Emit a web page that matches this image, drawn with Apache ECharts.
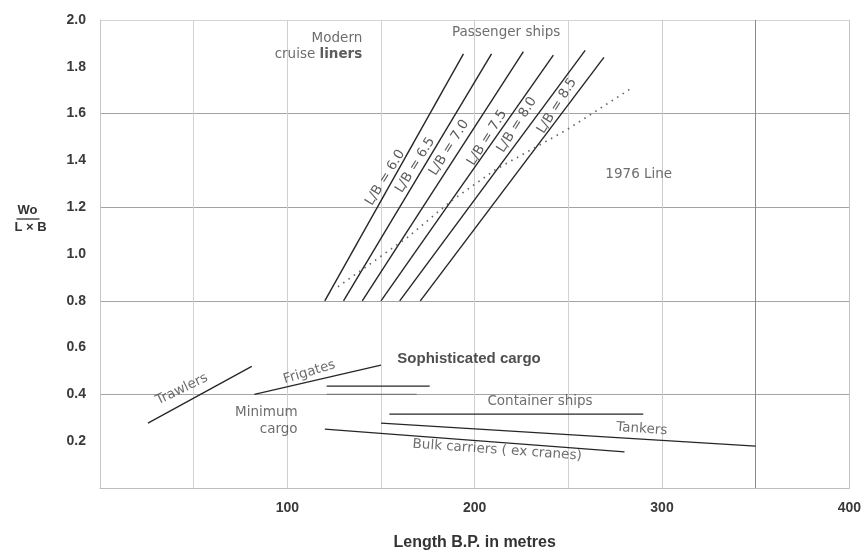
<!DOCTYPE html>
<html>
<head>
<meta charset="utf-8">
<script src="https://cdn.jsdelivr.net/npm/echarts@6/dist/echarts.min.js"></script>
<style>
  html, body { margin: 0; padding: 0; background: #fff; }
  #chart { width: 864px; height: 556px; }
</style>
</head>
<body>
<div id="chart"></div>
<script>
// ---- Axis ticks ----
const xTickLabels = [100, 200, 300, 400];
const yTickLabels = [0.2, 0.4, 0.6, 0.8, 1.0, 1.2, 1.4, 1.6, 1.8, 2.0];

// ---- L/B lines: [length B.P. (m), Wo/(L x B)] at each end ----
const lbRatios = ['6.0', '6.5', '7.0', '7.5', '8.0', '8.5'];
const lbStart = [[120, 0.80], [130, 0.80], [140, 0.80], [150, 0.80], [160, 0.80], [171, 0.80]];
const lbEnd   = [[194, 1.855], [209, 1.855], [226, 1.865], [242, 1.85], [259, 1.87], [269, 1.84]];

// ---- 1976 line (dotted) ----
const line1976 = [[127, 0.86], [164, 1.07], [188, 1.23], [211, 1.36], [249, 1.53], [284, 1.71]];

// ---- Ship type bands ----
const trawlers       = [[25.6, 0.277], [81, 0.52]];
const frigates       = [[82.4, 0.40], [150, 0.525]];
const sophCargo      = [[121, 0.435], [176, 0.435]];
const minimumCargo   = [[121, 0.40], [169, 0.40]];
const containerShips = [[154.5, 0.316], [290, 0.316]];
const tankers        = [[150, 0.277], [350, 0.179]];
const bulkCarriers   = [[120, 0.252], [280, 0.154]];

// ---- Text notes placed in data space ----
const notes = [
  { text: 'L/B = 6.0', at: [152.3, 1.326], rotate: 58, dark: true },
  { text: 'L/B = 6.5', at: [168.3, 1.380], rotate: 58, dark: true },
  { text: 'L/B = 7.0', at: [186.4, 1.454], rotate: 58, dark: true },
  { text: 'L/B = 7.5', at: [206.7, 1.497], rotate: 58, dark: true },
  { text: 'L/B = 8.0', at: [222.6, 1.552], rotate: 58, dark: true },
  { text: 'L/B = 8.5', at: [244.0, 1.633], rotate: 58, dark: true },
  { text: 'Passenger ships', at: [216.8, 1.945] },
  { text: 'Modern', at: [140, 1.923], align: 'right' },
  { text: 'cruise {b|liners}', at: [140, 1.851], align: 'right' },
  { text: '1976 Line', at: [287.6, 1.339] },
  { text: 'Trawlers', at: [43.7, 0.422], rotate: 26 },
  { text: 'Frigates', at: [111.8, 0.495], rotate: 17 },
  { text: 'Sophisticated cargo', at: [197, 0.55], bold: true },
  { text: 'Minimum', at: [105.5, 0.324], align: 'right' },
  { text: 'cargo', at: [105.5, 0.252], align: 'right' },
  { text: 'Container ships', at: [234.9, 0.371] },
  { text: 'Tankers', at: [289.2, 0.252], rotate: -4 },
  { text: 'Bulk carriers ( ex cranes)', at: [212, 0.162], rotate: -4 }
];

const INK = '#262626';
const TEXT = '#484848';

function segment(name, data, color, width, type) {
  return {
    name: name,
    type: 'line',
    xAxisIndex: 0,
    yAxisIndex: 0,
    data: data,
    symbol: 'none',
    silent: true,
    animation: false,
    lineStyle: { color: color || INK, width: width || 1.3, type: type || 'solid' },
    z: 3
  };
}

const series = [];
lbRatios.forEach(function (r, i) {
  series.push(segment('L/B = ' + r, [lbStart[i], lbEnd[i]], INK, 1.4));
});
series.push(segment('1976 Line', line1976, '#666', 1.7, [1.5, 5]));
series.push(segment('Trawlers', trawlers));
series.push(segment('Frigates', frigates));
series.push(segment('Sophisticated cargo', sophCargo));
series.push(segment('Minimum cargo', minimumCargo, '#777', 1.2));
series.push(segment('Container ships', containerShips));
series.push(segment('Tankers', tankers));
series.push(segment('Bulk carriers', bulkCarriers));

// Text notes drawn as labels of invisible points
series.push({
  name: 'notes',
  type: 'scatter',
  xAxisIndex: 0,
  yAxisIndex: 0,
  symbol: 'circle',
  symbolSize: 1,
  silent: true,
  animation: false,
  itemStyle: { color: 'rgba(0,0,0,0)' },
  z: 5,
  data: notes.map(function (n) {
    return {
      value: n.at,
      label: {
        show: true,
        position: 'inside',
        formatter: n.text,
        rotate: n.rotate || 0,
        align: n.align || 'center',
        verticalAlign: 'middle',
        color: n.bold ? '#222' : (n.dark ? '#333' : TEXT),
        fontFamily: n.bold ? 'Liberation Sans' : 'DejaVu Sans',
        fontWeight: n.bold ? 'bold' : 'normal',
        fontSize: n.bold ? 15 : 13.5,
        rich: { b: { fontFamily: 'DejaVu Sans', fontWeight: 'bold', fontSize: 13.5, color: '#333' } }
      }
    };
  })
});

const chart = echarts.init(document.getElementById('chart'), null, { renderer: 'canvas' });
chart.setOption({
  backgroundColor: '#ffffff',
  animation: false,
  grid: { left: 100, right: 13, top: 20, bottom: 67 },
  xAxis: [{
    type: 'value',
    min: 0,
    max: 400,
    interval: 50,
    name: 'Length B.P. in metres',
    nameLocation: 'middle',
    nameGap: 47,
    nameTextStyle: { fontFamily: 'Liberation Sans', fontWeight: 'bold', fontSize: 16, color: '#333' },
    axisLine: { show: true, lineStyle: { color: '#bdbdbd', type: [3, 4], width: 1 } },
    axisTick: { show: false },
    axisLabel: {
      margin: 13,
      fontFamily: 'Liberation Sans',
      fontWeight: 'bold',
      fontSize: 14,
      color: '#3a3a3a',
      formatter: function (v) { return xTickLabels.indexOf(v) >= 0 ? String(v) : ''; }
    },
    splitLine: {
      show: true,
      lineStyle: {
        width: 1,
        color: ['#d6d6d6', '#d2d2d2', '#cfcfcf', '#d2d2d2', '#cfcfcf', '#d2d2d2', '#cdcdcd', '#8a8a8a', '#c4c4c4']
      }
    }
  }],
  yAxis: [{
    type: 'value',
    min: 0,
    max: 2,
    interval: 0.2,
    axisLine: { show: true, lineStyle: { color: '#c6c6c6', width: 1 } },
    axisTick: { show: false },
    axisLabel: {
      margin: 14,
      fontFamily: 'Liberation Sans',
      fontWeight: 'bold',
      fontSize: 14,
      color: '#3a3a3a',
      formatter: function (v) {
        const s = v.toFixed(1);
        return yTickLabels.some(function (t) { return t.toFixed(1) === s; }) ? s : '';
      }
    },
    splitLine: { show: false }
  }, {
    type: 'value',
    min: 0,
    max: 2,
    interval: 0.4,
    position: 'left',
    axisLine: { show: false },
    axisTick: { show: false },
    axisLabel: { show: false },
    splitLine: {
      show: true,
      lineStyle: {
        width: 1,
        color: ['#bdbdbd', '#a3a3a3', '#a3a3a3', '#a3a3a3', '#a3a3a3', '#d4d4d4']
      }
    }
  }],
  graphic: [{
    type: 'group',
    left: 14,
    top: 204,
    children: [
      { type: 'text', x: 14, y: 0, style: { text: 'Wo', fontFamily: 'Liberation Sans', fontWeight: 'bold', fontSize: 13, fill: '#333', align: 'center' } },
      { type: 'line', shape: { x1: 3, y1: 15, x2: 26, y2: 15 }, style: { stroke: '#333', lineWidth: 1.3 } },
      { type: 'text', x: 17, y: 17, style: { text: 'L × B', fontFamily: 'Liberation Sans', fontWeight: 'bold', fontSize: 13, fill: '#333', align: 'center' } }
    ]
  }],
  series: series
});
</script>
</body>
</html>
